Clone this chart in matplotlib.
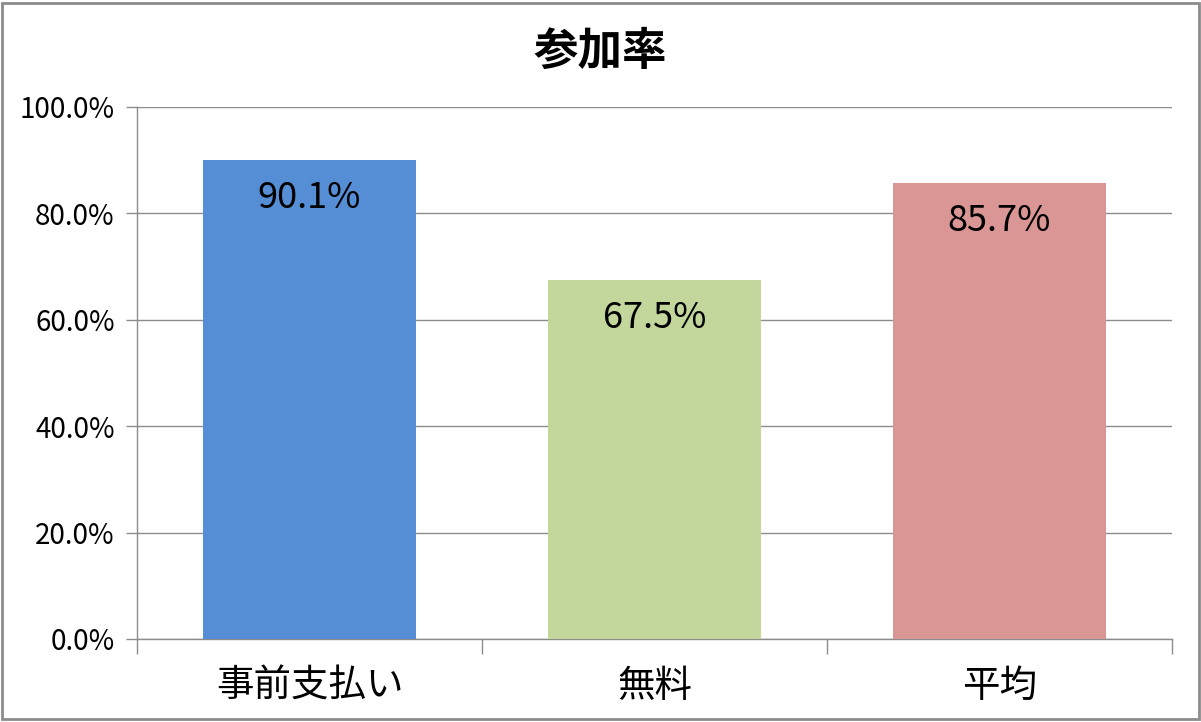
import matplotlib.pyplot as plt
from matplotlib.ticker import PercentFormatter
from matplotlib.patches import Rectangle

plt.rcParams['font.family'] = ['Noto Sans CJK JP', 'DejaVu Sans']

# dati
categorie = ['事前支払い', '無料', '平均']
valori = [90.1, 67.5, 85.7]
colori = ['#558ED5', '#C3D69B', '#D99694']
titolo = '参加率'

fig = plt.figure(figsize=(12.01, 7.22), dpi=100)
ax = fig.add_axes([137 / 1201, 83 / 722, 1035 / 1201, 532 / 722])

x = range(len(categorie))
barre = ax.bar(x, valori, width=0.62, color=colori, zorder=3)

for b, v in zip(barre, valori):
    ax.text(b.get_x() + b.get_width() / 2, v - 3.8, f'{v:.1f}%',
            ha='center', va='top', fontsize=26, color='black', zorder=4)

ax.set_xlim(-0.5, len(categorie) - 0.5)
ax.set_ylim(0, 100)
ax.set_yticks([0, 20, 40, 60, 80, 100])
ax.yaxis.set_major_formatter(PercentFormatter(decimals=1))
ax.grid(axis='y', color='#8c8c8c', linewidth=1, zorder=0)

# tick delle categorie ai bordi, etichette al centro
ax.set_xticks([i - 0.5 for i in range(len(categorie) + 1)])
ax.set_xticklabels([])
ax.set_xticks(list(x), minor=True)
ax.set_xticklabels(categorie, minor=True, fontsize=27)
ax.tick_params(axis='x', which='minor', length=0, pad=20)
ax.tick_params(axis='x', which='major', length=11, color='#8c8c8c', width=1)
ax.tick_params(axis='y', length=8, color='#8c8c8c', width=1, labelsize=20, pad=8)

for lato in ['top', 'right']:
    ax.spines[lato].set_visible(False)
for lato in ['left', 'bottom']:
    ax.spines[lato].set_color('#8c8c8c')
    ax.spines[lato].set_linewidth(1)

# titolo centrato sulla figura
fig.text(0.5, 1 - 52 / 722, titolo, ha='center', va='center',
         fontsize=32, fontweight='bold')

# cornice esterna
fig.add_artist(Rectangle((0.002, 0.004), 0.996, 0.992, transform=fig.transFigure,
                         fill=False, edgecolor='#8c8c8c', linewidth=2))

fig.savefig('out.png', dpi=100)
